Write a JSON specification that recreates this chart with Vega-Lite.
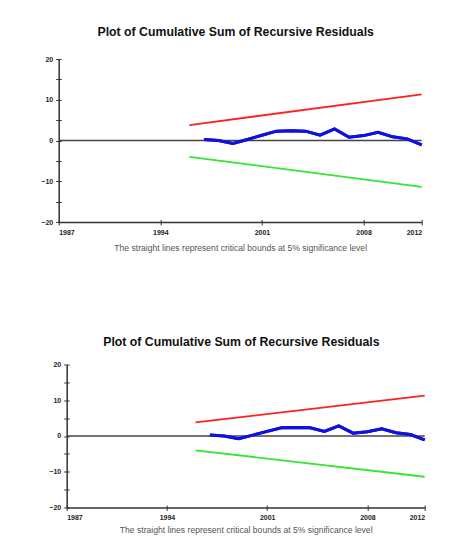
{
  "$schema": "https://vega.github.io/schema/vega-lite/v6.json",
  "padding": {"left": 35.7, "top": 25, "right": 10, "bottom": 0},
  "background": "white",
  "spacing": 84.5,
  "config": {
    "view": {"stroke": null},
    "axis": {
      "domainColor": "#333333", "domainWidth": 1.5,
      "tickColor": "#333333", "tickWidth": 1, "tickSize": 3,
      "grid": false, "labelOverlap": false,
      "labelFont": "Liberation Sans", "labelFontWeight": "bold", "labelFontSize": 7, "labelColor": "#222222", "labelPadding": 3,
      "titleFont": "Liberation Sans", "titleFontWeight": "normal", "titleFontSize": 8.6, "titleColor": "#555555"
    },
    "title": {"font": "Liberation Sans", "fontSize": 12.3, "fontWeight": "bold", "color": "#111111", "anchor": "middle", "frame": "group"}
  },
  "datasets": {
    "cusum": [
      {"year": 1997, "value": 0.25},
      {"year": 1998, "value": 0.0},
      {"year": 1999, "value": -0.74},
      {"year": 2000, "value": 0.25},
      {"year": 2001, "value": 1.3},
      {"year": 2002, "value": 2.3},
      {"year": 2003, "value": 2.4},
      {"year": 2004, "value": 2.3},
      {"year": 2005, "value": 1.3},
      {"year": 2006, "value": 2.85},
      {"year": 2007, "value": 0.8},
      {"year": 2008, "value": 1.2},
      {"year": 2009, "value": 2.0},
      {"year": 2010, "value": 0.9},
      {"year": 2011, "value": 0.4},
      {"year": 2012, "value": -1.1}
    ],
    "bounds": [
      {"year": 1996, "value": 3.8, "series": "upper"},
      {"year": 2012, "value": 11.3, "series": "upper"},
      {"year": 1996, "value": -4.0, "series": "lower"},
      {"year": 2012, "value": -11.4, "series": "lower"}
    ],
    "none": []
  },
  "vconcat": [
    {
      "spacing": 0,
      "hconcat": [
        {"width": 1, "height": 1, "data": {"name": "none"}, "mark": "point"},
        {
          "title": {"text": "Plot of Cumulative Sum of Recursive Residuals", "offset": 17, "dx": -4.5},
          "width": 363,
          "height": 163,
          "resolve": {"scale": {"x": "shared", "y": "shared"}, "axis": {"x": "independent", "y": "independent"}},
          "layer": [
            {
              "data": {"name": "bounds"},
              "mark": {"type": "line", "strokeWidth": 1.8},
              "encoding": {
                "x": {"field": "year", "type": "quantitative",
                  "scale": {"domain": [1987, 2012], "nice": false, "zero": false},
                  "axis": {"orient": "bottom", "values": [1987, 1994, 2001, 2008, 2012], "format": "d", "title": "The straight lines represent critical bounds at 5% significance level", "titlePadding": 8}},
                "y": {"field": "value", "type": "quantitative",
                  "scale": {"domain": [-20, 20], "nice": false},
                  "axis": {"orient": "left", "values": [-20, -15, -10, -5, 0, 5, 10, 15, 20], "labelExpr": "datum.value % 10 === 0 ? datum.label : ''", "title": null, "minExtent": 22}},
                "color": {"field": "series", "type": "nominal", "scale": {"domain": ["upper", "lower"], "range": ["#ff2020", "#33e633"]}, "legend": null}
              }
            },
            {
              "data": {"name": "cusum"},
              "mark": {"type": "line", "color": "#1010e0", "strokeWidth": 3},
              "encoding": {
                "x": {"field": "year", "type": "quantitative",
                  "axis": {"orient": "bottom", "values": [1987, 1994, 2001, 2008, 2012], "labels": false, "domain": false, "tickSize": -2.5, "title": null, "minExtent": 0, "maxExtent": 0}},
                "y": {"field": "value", "type": "quantitative",
                  "axis": {"orient": "left", "values": [-20, -15, -10, -5, 0, 5, 10, 15, 20], "labels": false, "domain": false, "tickSize": -2.5, "title": null, "minExtent": 0, "maxExtent": 0}}
              }
            },
            {
              "data": {"values": [{"z": 0}]},
              "mark": {"type": "rule", "color": "#444444", "strokeWidth": 1.5},
              "encoding": {"y": {"field": "z", "type": "quantitative", "axis": null}}
            },
            {
              "data": {"name": "cusum"},
              "mark": {"type": "line", "color": "#1010e0", "strokeWidth": 3},
              "encoding": {
                "x": {"field": "year", "type": "quantitative", "axis": null},
                "y": {"field": "value", "type": "quantitative", "axis": null}
              }
            }
          ]
        }
      ]
    },
    {
      "spacing": 0,
      "hconcat": [
        {"width": 8.3, "height": 1, "data": {"name": "none"}, "mark": "point"},
        {
          "title": {"text": "Plot of Cumulative Sum of Recursive Residuals", "offset": 11.7, "dx": -4.3},
          "width": 358,
          "height": 143,
          "resolve": {"scale": {"x": "shared", "y": "shared"}, "axis": {"x": "independent", "y": "independent"}},
          "layer": [
            {
              "data": {"name": "bounds"},
              "mark": {"type": "line", "strokeWidth": 1.8},
              "encoding": {
                "x": {"field": "year", "type": "quantitative",
                  "scale": {"domain": [1987, 2012], "nice": false, "zero": false},
                  "axis": {"orient": "bottom", "values": [1987, 1994, 2001, 2008, 2012], "format": "d", "title": "The straight lines represent critical bounds at 5% significance level", "titlePadding": 5.5}},
                "y": {"field": "value", "type": "quantitative",
                  "scale": {"domain": [-20, 20], "nice": false},
                  "axis": {"orient": "left", "values": [-20, -15, -10, -5, 0, 5, 10, 15, 20], "labelExpr": "datum.value % 10 === 0 ? datum.label : ''", "title": null, "minExtent": 22}},
                "color": {"field": "series", "type": "nominal", "scale": {"domain": ["upper", "lower"], "range": ["#ff2020", "#33e633"]}, "legend": null}
              }
            },
            {
              "data": {"name": "cusum"},
              "mark": {"type": "line", "color": "#1010e0", "strokeWidth": 3},
              "encoding": {
                "x": {"field": "year", "type": "quantitative",
                  "axis": {"orient": "bottom", "values": [1987, 1994, 2001, 2008, 2012], "labels": false, "domain": false, "tickSize": -2.5, "title": null, "minExtent": 0, "maxExtent": 0}},
                "y": {"field": "value", "type": "quantitative",
                  "axis": {"orient": "left", "values": [-20, -15, -10, -5, 0, 5, 10, 15, 20], "labels": false, "domain": false, "tickSize": -2.5, "title": null, "minExtent": 0, "maxExtent": 0}}
              }
            },
            {
              "data": {"values": [{"z": 0}]},
              "mark": {"type": "rule", "color": "#444444", "strokeWidth": 1.5},
              "encoding": {"y": {"field": "z", "type": "quantitative", "axis": null}}
            },
            {
              "data": {"name": "cusum"},
              "mark": {"type": "line", "color": "#1010e0", "strokeWidth": 3},
              "encoding": {
                "x": {"field": "year", "type": "quantitative", "axis": null},
                "y": {"field": "value", "type": "quantitative", "axis": null}
              }
            }
          ]
        }
      ]
    }
  ]
}
